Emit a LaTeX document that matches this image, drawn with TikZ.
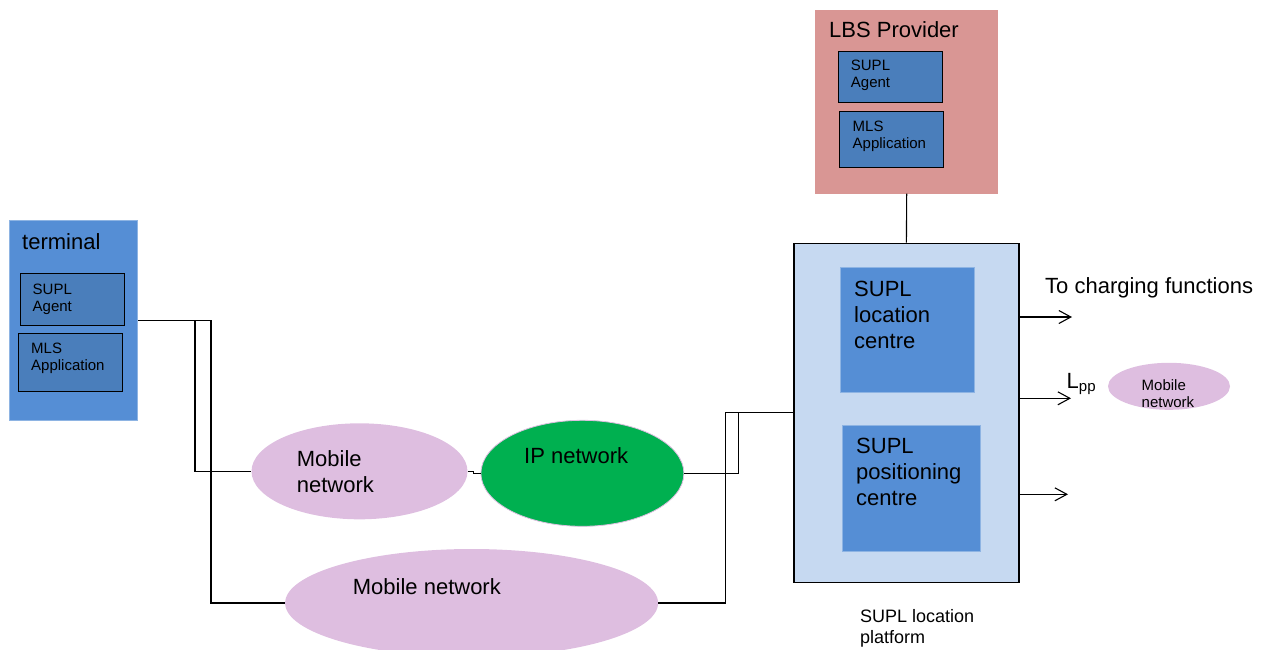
\documentclass[tikz,border=0pt]{standalone}
\usepackage{fontspec}
\setmainfont{Liberation Sans}
\usetikzlibrary{shapes.geometric,arrows.meta}
\definecolor{termblue}{HTML}{558ED5}
\definecolor{termedge}{HTML}{8EB4E3}
\definecolor{agentblue}{HTML}{4A7EBB}
\definecolor{lbsrose}{HTML}{D99694}
\definecolor{slpblue}{HTML}{C6D9F1}
\definecolor{netlilac}{HTML}{DEBEE0}
\definecolor{ipgreen}{HTML}{00B050}
\newcommand{\fbig}{\fontsize{22}{26}\selectfont}
\newcommand{\fmid}{\fontsize{18}{21}\selectfont}
\newcommand{\fsmall}{\fontsize{15}{17}\selectfont}
\begin{document}
\begin{tikzpicture}[x=1pt,y=-1pt,
  block/.style={rectangle,inner sep=0pt,anchor=north west},
  outerblue/.style={block,fill=termblue,draw=termedge,line width=1pt},
  agentbox/.style={block,fill=agentblue,draw=black,line width=1.1pt},
  centrebox/.style={block,fill=termblue,draw=termedge,line width=1pt},
  net/.style={ellipse,inner sep=0pt,fill=netlilac},
  txt/.style={inner sep=0pt,text=black,align=left},
  wire/.style={draw=black,line width=1.1pt},
  arr/.style={wire,-{Straight Barb[length=12pt,width=13pt,line width=1.1pt]}}]
\path[use as bounding box,clip] (0,0) rectangle (1268,649);

% terminal
\node[outerblue,minimum width=128pt,minimum height=200pt] (term) at (9,220) {};
\node[agentbox,minimum width=104pt,minimum height=52pt] (tagent) at (20,272.5) {};
\node[agentbox,minimum width=104pt,minimum height=58pt] (tmls) at (17.5,333) {};
\node[txt,anchor=base west,font=\fbig] (termlbl) at (22,249) {terminal};
\node[txt,anchor=north west,font=\fsmall] (tagentlbl) at (32.5,284) {SUPL\\Agent};
\node[txt,anchor=north west,font=\fsmall] (tmlslbl) at (31,343) {MLS\\Application};

% LBS provider
\node[block,fill=lbsrose,minimum width=183pt,minimum height=184pt] (lbs) at (815,9.3) {};
\node[agentbox,minimum width=104pt,minimum height=51pt] (lagent) at (837.5,50.8) {};
\node[agentbox,minimum width=104pt,minimum height=56pt] (lmls) at (838.5,111) {};
\node[txt,anchor=base west,font=\fbig] (lbslbl) at (829,37.7) {LBS Provider};
\node[txt,anchor=north west,font=\fsmall] (lagentlbl) at (850.7,60) {SUPL\\Agent};
\node[txt,anchor=north west,font=\fsmall] (lmlslbl) at (852.5,121) {MLS\\Application};

% SUPL location platform
\node[block,fill=slpblue,draw=black,line width=1.2pt,minimum width=225pt,minimum height=339pt] (slp) at (793.3,242.7) {};
\node[centrebox,minimum width=134pt,minimum height=125pt] (slc) at (840,267) {};
\node[centrebox,minimum width=138pt,minimum height=126pt] (spc) at (842.3,424.5) {};
\node[txt,anchor=north west,font=\fbig] (slclbl) at (854,281) {SUPL\\location\\centre};
\node[txt,anchor=north west,font=\fbig] (spclbl) at (856,438) {SUPL\\positioning\\centre};
\node[txt,anchor=base west,font=\fmid] (slplbl) at (860,643) {SUPL location\\platform};

% networks
\node[net,minimum width=216pt,minimum height=96pt] (mn1) at (359.5,471.3) {};
\node[net,fill=ipgreen,draw=netlilac,line width=0.8pt,minimum width=203pt,minimum height=106pt] (ip) at (582.4,473.3) {};
\node[net,minimum width=373pt,minimum height=108pt] (mn2) at (471.6,603) {};
\node[net,minimum width=122pt,minimum height=47pt] (mn3) at (1169,386.3) {};
\node[txt,anchor=north west,font=\fbig] (mn1lbl) at (296.7,450) {Mobile\\network};
\node[txt,anchor=base west,font=\fbig] (iplbl) at (524,463) {IP network};
\node[txt,anchor=base west,font=\fbig] (mn2lbl) at (352.7,594.7) {Mobile network};
\node[txt,anchor=base west,font=\fsmall] (mn3lbl) at (1141.5,407) {Mobile\\network};

% outgoing interfaces
\coordinate (chg) at (1072,317);
\coordinate (lpp) at (1071,398.3);
\coordinate (out3) at (1068,494.3);
\node[txt,anchor=base west,font=\fbig] (chglbl) at (1045,293.3) {To charging functions};
\node[txt,anchor=base west,font=\fbig] (lpplbl) at (1066.5,388.3) {L\textsubscript{\fontsize{15}{17}\selectfont pp}};

% connectors
\draw[wire] (term.east) -- ++(73,0) |- (mn2.west);
\draw[wire] (term.east) ++(57,0) |- (mn1.west);
\draw[wire] (mn1.east) -- ++(6,0) |- (ip.west);
\draw[wire] (ip.east) -- ++(54,0) |- (slp.west);
\draw[wire] (mn2.east) -- ++(67,0) |- (slp.west);
\draw[wire] (lbs.south) -- (slp.north);
\draw[arr] (slp.east |- chg) -- (chg);
\draw[arr] (slp.east |- lpp) -- (lpp);
\draw[arr] (slp.east |- out3) -- (out3);
\end{tikzpicture}
\end{document}
